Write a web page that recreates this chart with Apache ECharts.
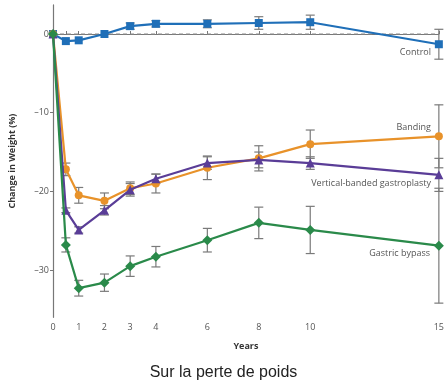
<!DOCTYPE html>
<html>
<head>
<meta charset="utf-8">
<style>
html,body{margin:0;padding:0;background:#fff;}
#c{width:447px;height:388px;}
</style>
<script src="https://cdn.jsdelivr.net/npm/echarts@6/dist/echarts.min.js"></script>
</head>
<body>
<div id="c"></div>
<script>
const years = [0, 0.5, 1, 2, 3, 4, 6, 8, 10, 15];
const xTicks = [0, 1, 2, 3, 4, 6, 8, 10, 15];
const yTicks = [0, -10, -20, -30];
const baselineValue = 0;

const controlVals = [0, -0.9, -0.8, 0, 1, 1.3, 1.3, 1.4, 1.5, -1.3];
const controlErr  = [0, 0, 0, 0, 0.4, 0.4, 0.5, 0.8, 0.9, 1.9];
const bandingVals = [0, -17.2, -20.5, -21.2, -19.6, -19, -17, -15.8, -14, -13];
const bandingErr  = [0, 0.8, 1, 1, 0.8, 1.2, 1.5, 1.6, 1.8, 4];
const vbgVals = [0, -22.4, -24.9, -22.4, -19.8, -18.4, -16.4, -16, -16.4, -17.9];
const vbgErr  = [0, 0.3, 0.4, 0.6, 0.8, 0.6, 0.8, 1, 0.8, 2.1];
const gbVals = [0, -26.8, -32.3, -31.6, -29.5, -28.3, -26.2, -24, -24.9, -26.9];
const gbErr  = [0, 0.9, 1, 1.1, 1.3, 1.3, 1.5, 2, 3, 7.3];

const seriesNames = ['Control', 'Banding', 'Vertical-banded gastroplasty', 'Gastric bypass'];
const colors = ['#1f6fb8', '#e8922a', '#5a3d97', '#2a8a4a'];
const symbols = ['rect', 'circle', 'triangle', 'diamond'];
const allVals = [controlVals, bandingVals, vbgVals, gbVals];
const allErr = [controlErr, bandingErr, vbgErr, gbErr];

function pairs(vals){ return years.map((x,i)=>[x, vals[i]]); }
function errData(vals, errs){
  const out = [];
  years.forEach((x,i)=>{ if (errs[i] > 0) out.push([x, vals[i]-errs[i], vals[i]+errs[i]]); });
  return out;
}
function renderErr(params, api){
  const x = api.value(0);
  const lo = api.coord([x, api.value(1)]);
  const hi = api.coord([x, api.value(2)]);
  const hw = 4.5;
  const st = {stroke:'#7a7a7a', lineWidth:1.2, fill:null};
  return {type:'group', children:[
    {type:'line', shape:{x1:lo[0],y1:lo[1],x2:hi[0],y2:hi[1]}, style:st},
    {type:'line', shape:{x1:lo[0]-hw,y1:lo[1],x2:lo[0]+hw,y2:lo[1]}, style:st},
    {type:'line', shape:{x1:hi[0]-hw,y1:hi[1],x2:hi[0]+hw,y2:hi[1]}, style:st}
  ]};
}

const series = [];
// dashed zero reference line
series.push({
  type:'line', name:'baseline', data:[[years[0], baselineValue],[years[years.length-1], baselineValue]],
  symbol:'none', silent:true, z:1,
  lineStyle:{color:'#8a8a8a', type:[4,3], width:1.2}
});
allVals.forEach((vals, k)=>{
  series.push({
    type:'custom', name: seriesNames[k]+' err', renderItem: renderErr,
    data: errData(vals, allErr[k]), z: 3, silent:true, clip:false,
    encode:{x:0, y:[1,2]}
  });
});
allVals.forEach((vals, k)=>{
  series.push({
    type:'line', name: seriesNames[k], data: pairs(vals),
    symbol: symbols[k], symbolSize: k===2 ? 9 : (k===3 ? 10 : 8),
    lineStyle:{color:colors[k], width:2.2},
    itemStyle:{color:colors[k]},
    z: 4 + k, clip:false, silent:true
  });
});

const chart = echarts.init(document.getElementById('c'), null, {renderer:'canvas'});
const labelStyle = {fill:'#555', font:'9px "Open Sans", sans-serif', textAlign:'right', textVerticalAlign:'middle'};
chart.setOption({
  animation:false,
  grid:{left:51, width:392, top:4.9, height:312.4},
  xAxis:{
    type:'value', min:0, max:15,
    axisLine:{show:true, lineStyle:{color:'#777', width:1.2}},
    axisTick:{show:true, inside:true, length:3, customValues:[0,0.5].concat(xTicks.slice(1)), lineStyle:{color:'#777'}},
    axisLabel:{customValues:xTicks, color:'#555', fontSize:9, fontFamily:'"Open Sans", sans-serif', margin:6},
    splitLine:{show:false},
    name:'Years', nameLocation:'middle', nameGap:25,
    nameTextStyle:{fontSize:9, fontWeight:'bold', color:'#333', fontFamily:'"Open Sans", sans-serif'}
  },
  yAxis:{
    type:'value', min:-36, max:3.7,
    axisLine:{show:true, lineStyle:{color:'#777', width:1.2}},
    axisTick:{show:true, length:3, customValues:yTicks, lineStyle:{color:'#777'}},
    axisLabel:{customValues:yTicks, color:'#555', fontSize:9, fontFamily:'"Open Sans", sans-serif', margin:4,
      formatter:v=> v<0 ? '\u2013'+(-v) : String(v)},
    splitLine:{show:false},
    name:'Change in Weight (%)', nameLocation:'middle', nameGap:36, nameRotate:90,
    nameTextStyle:{fontSize:9, fontWeight:'bold', color:'#333', fontFamily:'"Open Sans", sans-serif'}
  },
  series: series,
  graphic:[
    {type:'text', left:'center', top:365, style:{text:'Sur la perte de poids', fill:'#222', font:'16px "Liberation Sans", Arial, sans-serif'}},
    {type:'text', x:431, y:52, style:Object.assign({text:seriesNames[0]}, labelStyle)},
    {type:'text', x:431, y:127, style:Object.assign({text:seriesNames[1]}, labelStyle)},
    {type:'text', x:431, y:183, style:Object.assign({text:seriesNames[2]}, labelStyle)},
    {type:'text', x:430, y:253, style:Object.assign({text:seriesNames[3]}, labelStyle)}
  ]
});
</script>
</body>
</html>
